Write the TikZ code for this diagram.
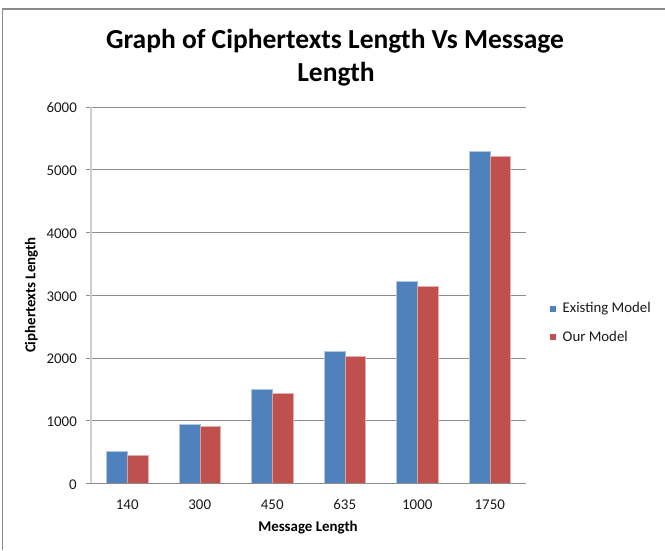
\documentclass[tikz,border=0pt]{standalone}
\usepackage{fontspec}
\setmainfont{Carlito}
\definecolor{seriesA}{HTML}{4F81BD}
\definecolor{seriesB}{HTML}{C0504D}
\definecolor{gridgray}{HTML}{8C8C8C}
\definecolor{axisgray}{HTML}{CFCFCF}
\definecolor{framegray}{HTML}{8A8A8A}
\tikzset{
  gridline/.style={draw=gridgray, line width=0.9pt},
  axisline/.style={draw=axisgray, line width=1.8pt},
  barA/.style={fill=seriesA, draw=seriesA!55!white, line width=0.5pt},
  barB/.style={fill=seriesB, draw=seriesB!55!white, line width=0.5pt},
  ticklabel/.style={font=\fontsize{14.9}{17}\selectfont, inner sep=0pt, text=black!90},
  axistitle/.style={font=\fontsize{14.9}{17}\selectfont\bfseries, inner sep=0pt},
  titletext/.style={font=\fontsize{27.5}{33}\selectfont\bfseries, inner sep=0pt},
  legendtext/.style={font=\fontsize{14.8}{18}\selectfont, inner sep=0pt, text=black!90},
}
\begin{document}
\begin{tikzpicture}[x=1pt,y=-1pt]
\useasboundingbox (0,0) rectangle (665,550);
% outer chart frame
\draw[draw=framegray, line width=1.2pt] (2.5,550) -- (2.5,9) -- (665,9);

% title
\node[titletext, anchor=base] (title1) at (335,48.3) {Graph of Ciphertexts Length Vs Message};
\node[titletext, anchor=base] (title2) at (336,81.7) {Length};

% horizontal gridlines and value labels (0 at y=483.5, 62.75 units per 1000)
\foreach \k in {0,...,6}{
  \pgfmathsetmacro{\yy}{483.5-62.75*\k}
  \draw[gridline] (86,\yy) -- (526,\yy);
  \pgfmathtruncatemacro{\val}{1000*\k}
  \node[ticklabel, anchor=east] (tick\k) at (77,\yy+1) {\val};
}
% vertical axis
\draw[axisline] (91,107) -- (91,483.5);

% bars: category, existing model, our model
\foreach \i/\cat/\va/\vb in {0/140/510/450, 1/300/950/905, 2/450/1500/1440,
                             3/635/2110/2030, 4/1000/3230/3150, 5/1750/5290/5210}{
  \pgfmathsetmacro{\cx}{91+72.5*(\i+0.5)}
  \pgfmathsetmacro{\ya}{483.5-0.06275*\va}
  \pgfmathsetmacro{\yb}{483.5-0.06275*\vb}
  \fill[barA] (\cx-20.7,483.5) rectangle (\cx,\ya);
  \fill[barB] (\cx,483.5) rectangle (\cx+20.7,\yb);
  \draw[barA, fill=none, draw=seriesA!45!white] (\cx-20.7,483.5) -- (\cx-20.7,\ya) -- (\cx,\ya);
  \draw[barB, fill=none, draw=seriesB!45!white] (\cx,\yb) -- (\cx+20.7,\yb) -- (\cx+20.7,483.5);
  \node[ticklabel, anchor=base] (cat\i) at (\cx,509) {\cat};
}
% baseline on top of the bars
\draw[gridline] (86,483.5) -- (526,483.5);

% axis titles
\node[axistitle] (xtitle) at (308,527.7) {Message Length};
\node[axistitle, rotate=90] (ytitle) at (31.5,295) {Ciphertexts Length};

% legend
\fill[seriesA] (550,305.7) rectangle (556,311.7);
\node[legendtext, anchor=base west] (leg1) at (562.5,312.3) {Existing Model};
\fill[seriesB] (550,334.3) rectangle (556,340.3);
\node[legendtext, anchor=base west] (leg2) at (562.5,341) {Our Model};
\end{tikzpicture}
\end{document}
